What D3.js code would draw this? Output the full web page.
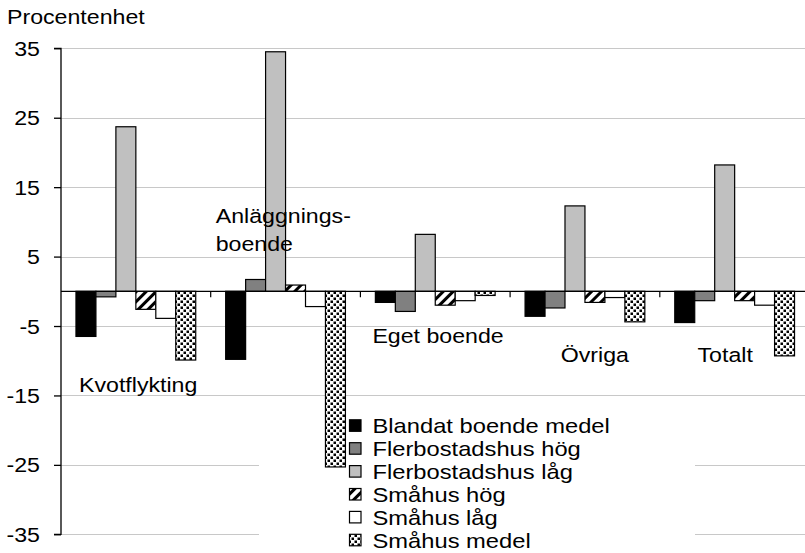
<!DOCTYPE html>
<html>
<head>
<meta charset="utf-8">
<script src="https://cdn.jsdelivr.net/npm/d3@7"></script>
<style>
  html, body { margin: 0; padding: 0; background: #fff; }
  svg { display: block; font-family: "Liberation Sans", Arial, sans-serif; }
</style>
</head>
<body>
<svg id="chart" width="805" height="553"></svg>
<script>
// ---- data ----
const categories = ["Kvotflykting", "Anläggningsboende", "Eget boende", "Övriga", "Totalt"];
const categoryLabels = [["Kvotflykting"], ["Anläggnings-", "boende"], ["Eget boende"], ["Övriga"], ["Totalt"]];
const seriesNames = ["Blandat boende medel", "Flerbostadshus hög", "Flerbostadshus låg", "Småhus hög", "Småhus låg", "Småhus medel"];
const blandatMedel       = [-6.5, -9.8, -1.6, -3.6, -4.5];
const flerbostadshusHog  = [-0.8,  1.7, -2.9, -2.4, -1.35];
const flerbostadshusLag  = [23.7, 34.5,  8.2, 12.3, 18.2];
const smahusHog          = [-2.6,  0.9, -2.0, -1.6, -1.35];
const smahusLag          = [-3.9, -2.2, -1.35, -0.9, -2.0];
const smahusMedel        = [-9.9, -25.3, -0.6, -4.4, -9.3];
const seriesValues = [blandatMedel, flerbostadshusHog, flerbostadshusLag, smahusHog, smahusLag, smahusMedel];
const yTicks = [35, 25, 15, 5, -5, -15, -25, -35];
const yAxisTitle = "Procentenhet";

// ---- layout (not data) ----
const labelLayout = [
  {dx: 18, y: -14.5},
  {dx: 5,  y: 9.9, lineY: 5.85},
  {dx: 12, y: -7.5},
  {dx: 50.6, y: -10.2},
  {dx: 37.7, y: -10.2}
];
const SX = 1.13;

const svg = d3.select("#chart");
const defs = svg.append("defs");

const hatch = defs.append("pattern").attr("id", "hatch").attr("patternUnits", "userSpaceOnUse")
  .attr("width", 7).attr("height", 7).attr("patternTransform", "rotate(45)");
hatch.append("rect").attr("width", 7).attr("height", 7).attr("fill", "#fff");
hatch.append("rect").attr("x", 0).attr("width", 3).attr("height", 7).attr("fill", "#000");

const dots = defs.append("pattern").attr("id", "dots").attr("patternUnits", "userSpaceOnUse")
  .attr("width", 6).attr("height", 6);
dots.append("rect").attr("width", 6).attr("height", 6).attr("fill", "#fff");
dots.append("rect").attr("x", 0.5).attr("y", 0.5).attr("width", 2.5).attr("height", 2.5).attr("fill", "#000");
dots.append("rect").attr("x", 3.5).attr("y", 3.5).attr("width", 2.5).attr("height", 2.5).attr("fill", "#000");

const fills = ["#000000", "#808080", "#c0c0c0", "url(#hatch)", "#ffffff", "url(#dots)"];

const plotLeft = 61, plotRight = 809.5, plotTop = 48.3, plotBottom = 534.3;

const x0 = d3.scaleBand().domain(categories).range([plotLeft, plotRight]).paddingInner(0).paddingOuter(0);
const x1 = d3.scaleBand().domain(seriesNames).range([0, x0.bandwidth()]).paddingInner(0).paddingOuter(0.75);
const y = d3.scaleLinear().domain([-35, 35]).range([plotBottom, plotTop]);

function stext(g, x, yy, str, anchor, size) {
  return g.append("text")
    .attr("transform", `translate(${x},${yy}) scale(${SX},1)`)
    .attr("text-anchor", anchor)
    .attr("font-size", size)
    .attr("fill", "#000")
    .text(str);
}

// gridlines
svg.append("g").selectAll("line").data(yTicks).join("line")
  .attr("x1", plotLeft).attr("x2", 805)
  .attr("y1", d => Math.round(y(d)) + 0.5).attr("y2", d => Math.round(y(d)) + 0.5)
  .attr("stroke", "#c8c8c8").attr("stroke-width", 1.2);

// legend background (hides gridlines behind it, but not bars)
svg.append("rect").attr("x", 259).attr("y", 404).attr("width", 436).attr("height", 160).attr("fill", "#fff");

// bars
const barData = [];
categories.forEach((c, ci) => {
  seriesNames.forEach((s, si) => {
    barData.push({cat: c, ser: s, si, v: seriesValues[si][ci]});
  });
});
svg.append("g").selectAll("rect").data(barData).join("rect")
  .attr("x", d => x0(d.cat) + x1(d.ser))
  .attr("width", x1.bandwidth())
  .attr("y", d => y(Math.max(0, d.v)))
  .attr("height", d => Math.abs(y(d.v) - y(0)))
  .attr("fill", d => fills[d.si])
  .attr("stroke", "#000").attr("stroke-width", 1.2);

// y axis
const yAxis = d3.axisLeft(y).tickValues(yTicks).tickSize(7).tickFormat("");
const yg = svg.append("g").attr("transform", `translate(${plotLeft},0)`).call(yAxis);
yg.select(".domain").attr("d", `M-7,${y(35)}H0V${y(-35)}H-7`).attr("stroke", "#000").attr("stroke-width", 1.3);
yg.selectAll(".tick line").attr("stroke", "#000").attr("stroke-width", 1.3);
yTicks.forEach(t => stext(svg, 40, y(t) + 7.5, String(t), "end", "20.5px"));

// x axis (zero line) with boundary ticks
const xg = svg.append("g");
xg.append("line").attr("x1", plotLeft).attr("x2", 805).attr("y1", y(0)).attr("y2", y(0))
  .attr("stroke", "#000").attr("stroke-width", 1.3);
xg.selectAll("line.tk").data(categories.slice(1)).join("line").attr("class", "tk")
  .attr("x1", d => x0(d)).attr("x2", d => x0(d))
  .attr("y1", y(0)).attr("y2", y(0) + 6)
  .attr("stroke", "#000").attr("stroke-width", 1.2);

// category labels
categories.forEach((c, i) => {
  const L = labelLayout[i];
  stext(svg, x0(c) + L.dx, y(L.y), categoryLabels[i][0], "start", "20.5px");
  if (categoryLabels[i][1]) stext(svg, x0(c) + L.dx, y(L.lineY), categoryLabels[i][1], "start", "20.5px");
});

// axis title
stext(svg, 7, 24, yAxisTitle, "start", "20.5px");

// legend
const legendG = svg.append("g");
const legStep = 22.9, legBase = 433.3;
seriesNames.forEach((s, i) => {
  const by = legBase + i * legStep;
  legendG.append("rect").attr("x", 349.5).attr("y", by - 13.5).attr("width", 11.5).attr("height", 11.5)
    .attr("fill", fills[i]).attr("stroke", "#000").attr("stroke-width", 1.2);
  stext(legendG, 372.5, by, s, "start", "21px");
});
</script>
</body>
</html>
